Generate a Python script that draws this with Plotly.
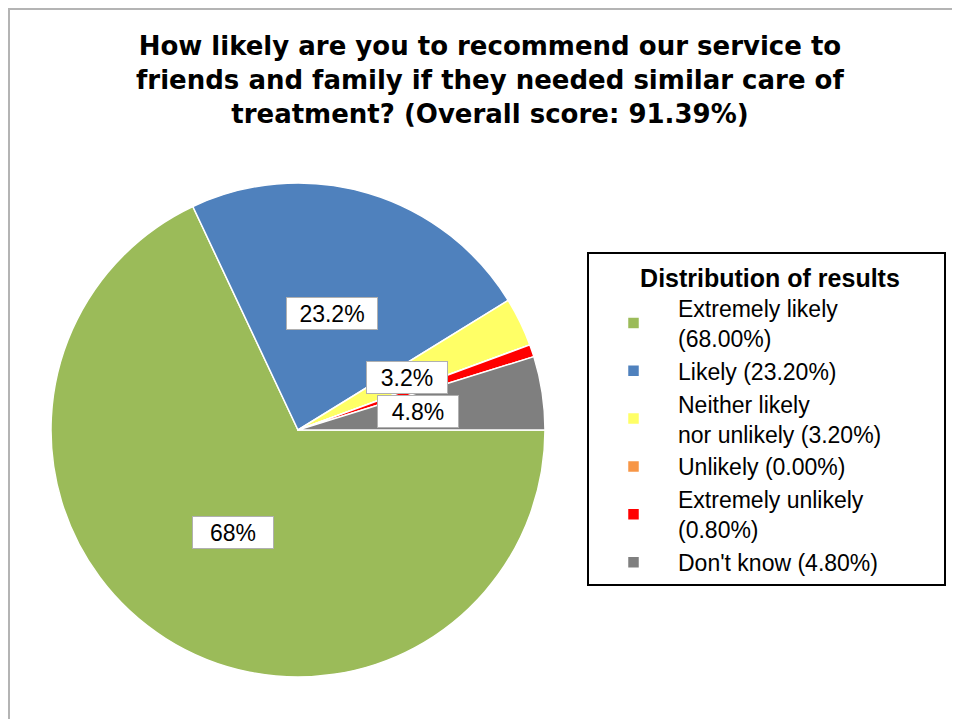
import math
import plotly.graph_objects as go

categories = ["Extremely likely", "Likely", "Neither likely nor unlikely", "Unlikely",
              "Extremely unlikely", "Don't know"]
legend_names = ["Extremely likely<br>(68.00%)", "Likely (23.20%)",
                "Neither likely<br>nor unlikely (3.20%)", "Unlikely (0.00%)",
                "Extremely unlikely<br>(0.80%)", "Don't know (4.80%)"]
values = [68.0, 23.2, 3.2, 0.0, 0.8, 4.8]
slice_labels = ["68%", "23.2%", "3.2%", "", "", "4.8%"]
colors = ["#9BBB59", "#4F81BD", "#FFFF66", "#F79646", "#FF0000", "#7F7F7F"]

W, H = 960, 719
# pie domain (paper)
dx = [43 / W, 537 / W]
dy = [50 / H, 544 / H]

fig = go.Figure()
fig.add_trace(go.Pie(
    labels=legend_names,
    values=values,
    sort=False,
    direction="clockwise",
    rotation=90,
    textinfo="none",
    hoverinfo="label+percent",
    marker=dict(colors=colors, line=dict(color="white", width=1.5)),
    domain=dict(x=dx, y=dy),
))

# data labels in white boxes, placed along each slice's mid angle
cx, cy = (dx[0] + dx[1]) / 2, (dy[0] + dy[1]) / 2
rx, ry = (dx[1] - dx[0]) / 2, (dy[1] - dy[0]) / 2
total = sum(values)
cum = 0.0
for v, lab in zip(values, slice_labels):
    mid = cum + v / 2
    cum += v
    if not lab:
        continue
    ang = -2 * math.pi * mid / total  # clockwise from 3 o'clock
    fig.add_annotation(
        x=cx + 0.49 * rx * math.cos(ang), y=cy + 0.49 * ry * math.sin(ang),
        xref="paper", yref="paper", xanchor="center", yanchor="middle",
        text=lab, showarrow=False,
        font=dict(family="Liberation Sans, Arial, sans-serif", size=23, color="black"),
        bgcolor="white", bordercolor="#B0B0B0", borderwidth=1, borderpad=1,
        width=88 if len(lab) > 4 else 78, height=29,
    )

fig.update_layout(
    width=W, height=H,
    margin=dict(l=0, r=0, t=0, b=0),
    paper_bgcolor="white",
    title=dict(
        text="How likely are you to recommend our service to<br>friends and family if they needed similar care of<br>treatment? (Overall score: 91.39%)",
        x=0.502, xanchor="center", y=1 - 47 / H, yanchor="top",
        font=dict(family="DejaVu Sans", size=26, color="black", weight="bold"),
    ),
    legend=dict(
        x=579 / W, y=1 - 244 / H, xanchor="left", yanchor="top",
        bordercolor="black", borderwidth=2, bgcolor="white",
        font=dict(family="Liberation Sans, Arial, sans-serif", size=23, color="black"),
        title=dict(text="&nbsp;" * 7 + "<b>Distribution of results</b>" + "&nbsp;" * 6,
                   side="top center",
                   font=dict(family="Liberation Sans, Arial", size=25)),
        itemwidth=79,
        itemclick=False, itemdoubleclick=False,
    ),
    shapes=[dict(type="rect", xref="paper", yref="paper",
                 x0=1 / W, x1=1.2, y0=-0.2, y1=1 - 1 / H,
                 line=dict(color="#B4B4B4", width=2), layer="below")],
)

fig.write_html("out.html")
